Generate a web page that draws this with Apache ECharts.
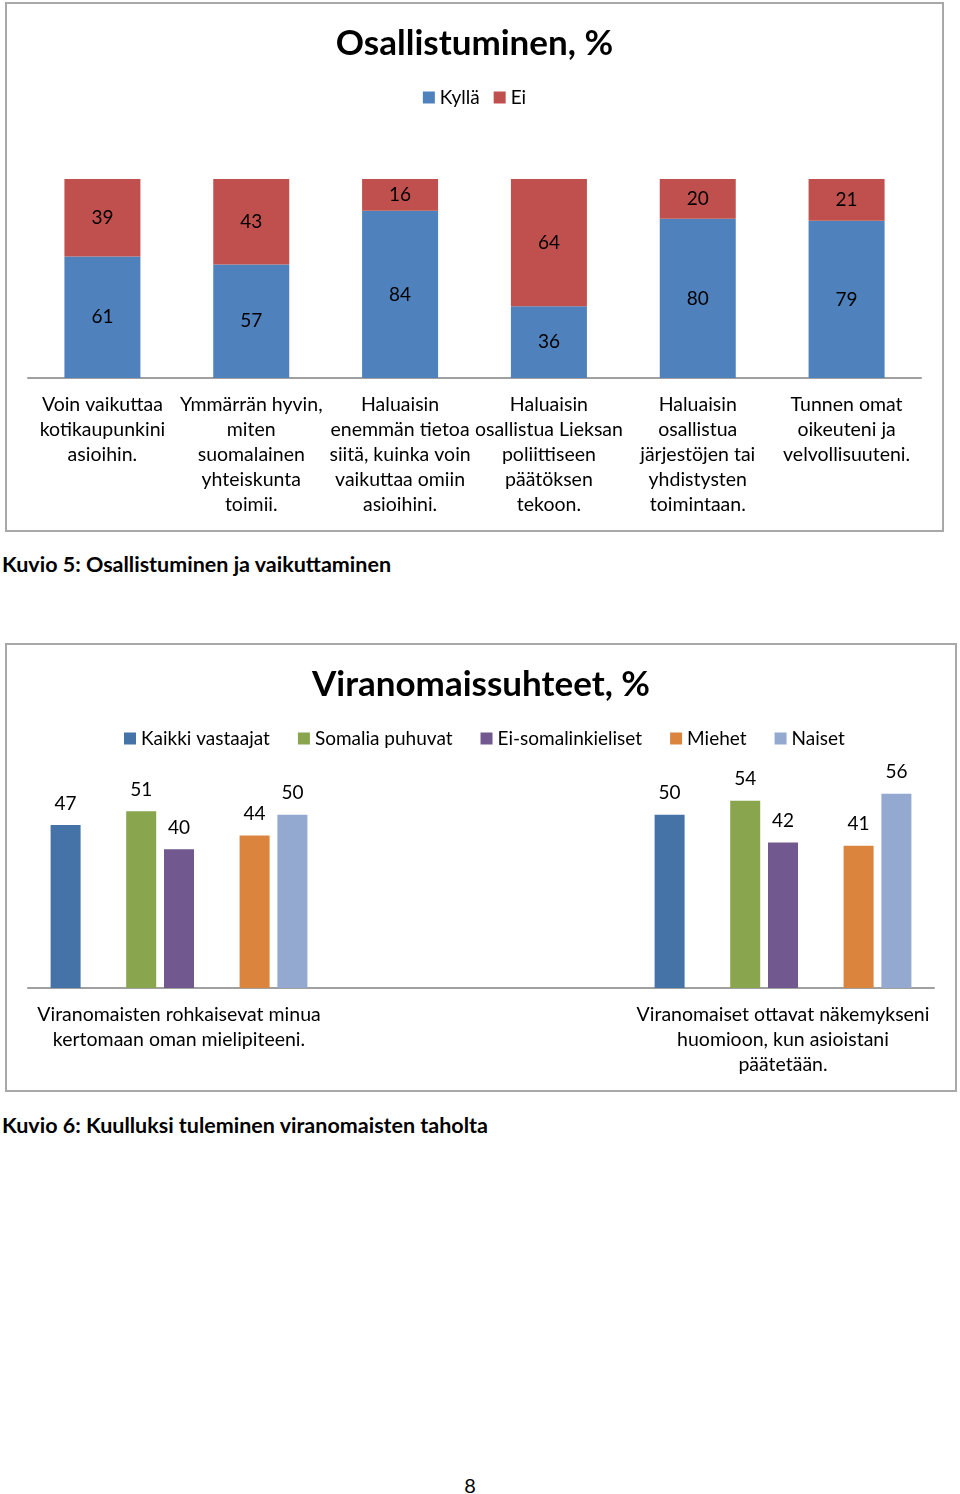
<!DOCTYPE html>
<html>
<head>
<meta charset="utf-8">
<script src="https://cdn.jsdelivr.net/npm/echarts@6/dist/echarts.min.js"></script>
<style>
  html, body { margin: 0; padding: 0; background: #fff; width: 960px; height: 1494px; position: relative; font-family: Lato, "Open Sans", sans-serif; }
  .box { position: absolute; box-sizing: border-box; border: 2px solid #a8a8a8; background: #fff; }
  .chart { width: 100%; height: 100%; }
  .cap { position: absolute; left: 2px; font-weight: bold; font-size: 21.5px; color: #000; line-height: 24px; white-space: nowrap; }
  .pg { position: absolute; left: 0; width: 940px; text-align: center; font-size: 20px; color: #000; line-height: 24px; }
</style>
</head>
<body>
<div class="box" style="left:5px; top:2px; width:939px; height:530px;"><div id="c1" class="chart"></div></div>
<div class="cap" style="top:552px;">Kuvio 5: Osallistuminen ja vaikuttaminen</div>
<div class="box" style="left:5px; top:643px; width:952px; height:449px;"><div id="c2" class="chart"></div></div>
<div class="cap" style="top:1113px;">Kuvio 6: Kuulluksi tuleminen viranomaisten taholta</div>
<div class="pg" style="top:1473px;">8</div>
<script>
// ---------- Chart 1 data ----------
const title1 = 'Osallistuminen, %';
const categories1 = [
  'Voin vaikuttaa\nkotikaupunkini\nasioihin.',
  'Ymmärrän hyvin,\nmiten\nsuomalainen\nyhteiskunta\ntoimii.',
  'Haluaisin\nenemmän tietoa\nsiitä, kuinka voin\nvaikuttaa omiin\nasioihini.',
  'Haluaisin\nosallistua Lieksan\npoliittiseen\npäätöksen\ntekoon.',
  'Haluaisin\nosallistua\njärjestöjen tai\nyhdistysten\ntoimintaan.',
  'Tunnen omat\noikeuteni ja\nvelvollisuuteni.'
];
const kylla = [61, 57, 84, 36, 80, 79];
const ei = [39, 43, 16, 64, 20, 21];

// ---------- Chart 2 data ----------
const title2 = 'Viranomaissuhteet, %';
const categories2 = [
  'Viranomaisten rohkaisevat minua\nkertomaan oman mielipiteeni.',
  '',
  'Viranomaiset ottavat näkemykseni\nhuomioon, kun asioistani\npäätetään.'
];
const kaikki = [47, null, 50];
const somalia = [51, null, 54];
const eiSomali = [40, null, 42];
const miehet = [44, null, 41];
const naiset = [50, null, 56];

const FONT = 'Lato, "Open Sans", sans-serif';
const FS = 19.5;

const c1 = echarts.init(document.getElementById('c1'), null, { renderer: 'canvas' });
c1.setOption({
  animation: false,
  textStyle: { fontFamily: FONT },
  title: {
    text: title1, left: 'center', top: 17,
    textStyle: { fontFamily: FONT, fontWeight: 'bold', fontSize: 35, color: '#000' }
  },
  legend: {
    data: ['Kyllä', 'Ei'], left: 'center', top: 79,
    itemWidth: 12, itemHeight: 12, itemGap: 14, icon: 'rect',
    textStyle: { fontFamily: FONT, fontSize: 19, color: '#000', padding: [0, 0, 0, 0] }
  },
  grid: { left: 21, right: 21, top: 175, bottom: 152 },
  xAxis: {
    type: 'category', data: categories1,
    axisLine: { lineStyle: { color: '#a0a0a0', width: 2 } },
    axisTick: { show: false },
    axisLabel: { interval: 0, margin: 14, fontFamily: FONT, fontSize: FS, lineHeight: 25, color: '#000' }
  },
  yAxis: { type: 'value', min: 0, max: 100, show: false },
  series: [
    { name: 'Kyllä', type: 'bar', stack: 's', data: kylla, barWidth: 76,
      itemStyle: { color: '#4f81bd' },
      label: { show: true, position: 'inside', fontFamily: FONT, fontSize: 19, color: '#000' } },
    { name: 'Ei', type: 'bar', stack: 's', data: ei, barWidth: 76,
      itemStyle: { color: '#c0504d' },
      label: { show: true, position: 'inside', fontFamily: FONT, fontSize: 19, color: '#000' } }
  ]
});

const c2 = echarts.init(document.getElementById('c2'), null, { renderer: 'canvas' });
const lbl2 = { show: true, position: 'top', distance: 12, fontFamily: FONT, fontSize: 19, color: '#000' };
function barS(name, data, color) {
  return { name, type: 'bar', data, barWidth: 30, barGap: '26%', itemStyle: { color }, label: lbl2 };
}
c2.setOption({
  animation: false,
  textStyle: { fontFamily: FONT },
  title: {
    text: title2, left: 'center', top: 17,
    textStyle: { fontFamily: FONT, fontWeight: 'bold', fontSize: 35, color: '#000' }
  },
  legend: {
    data: ['Kaikki vastaajat', 'Somalia puhuvat', 'Ei-somalinkieliset', 'Miehet', 'Naiset'],
    left: 112, top: 79,
    itemWidth: 12, itemHeight: 12, itemGap: 28, icon: 'rect',
    textStyle: { fontFamily: FONT, fontSize: 19, color: '#000', padding: [0, 0, 0, 0] }
  },
  grid: { left: 21, right: 21, top: 135, bottom: 102 },
  xAxis: {
    type: 'category', data: categories2,
    axisLine: { lineStyle: { color: '#a0a0a0', width: 2 } },
    axisTick: { show: false },
    axisLabel: { interval: 0, margin: 14, fontFamily: FONT, fontSize: FS, lineHeight: 25, color: '#000' }
  },
  yAxis: { type: 'value', min: 0, max: 60, show: false },
  series: [
    barS('Kaikki vastaajat', kaikki, '#4572a7'),
    { name: 'gap1', type: 'bar', data: [null, null, null], barWidth: 30, barGap: '26%' },
    barS('Somalia puhuvat', somalia, '#89a54e'),
    barS('Ei-somalinkieliset', eiSomali, '#71588f'),
    { name: 'gap2', type: 'bar', data: [null, null, null], barWidth: 30, barGap: '26%' },
    barS('Miehet', miehet, '#db843d'),
    barS('Naiset', naiset, '#93a9cf')
  ]
});
</script>
</body>
</html>
